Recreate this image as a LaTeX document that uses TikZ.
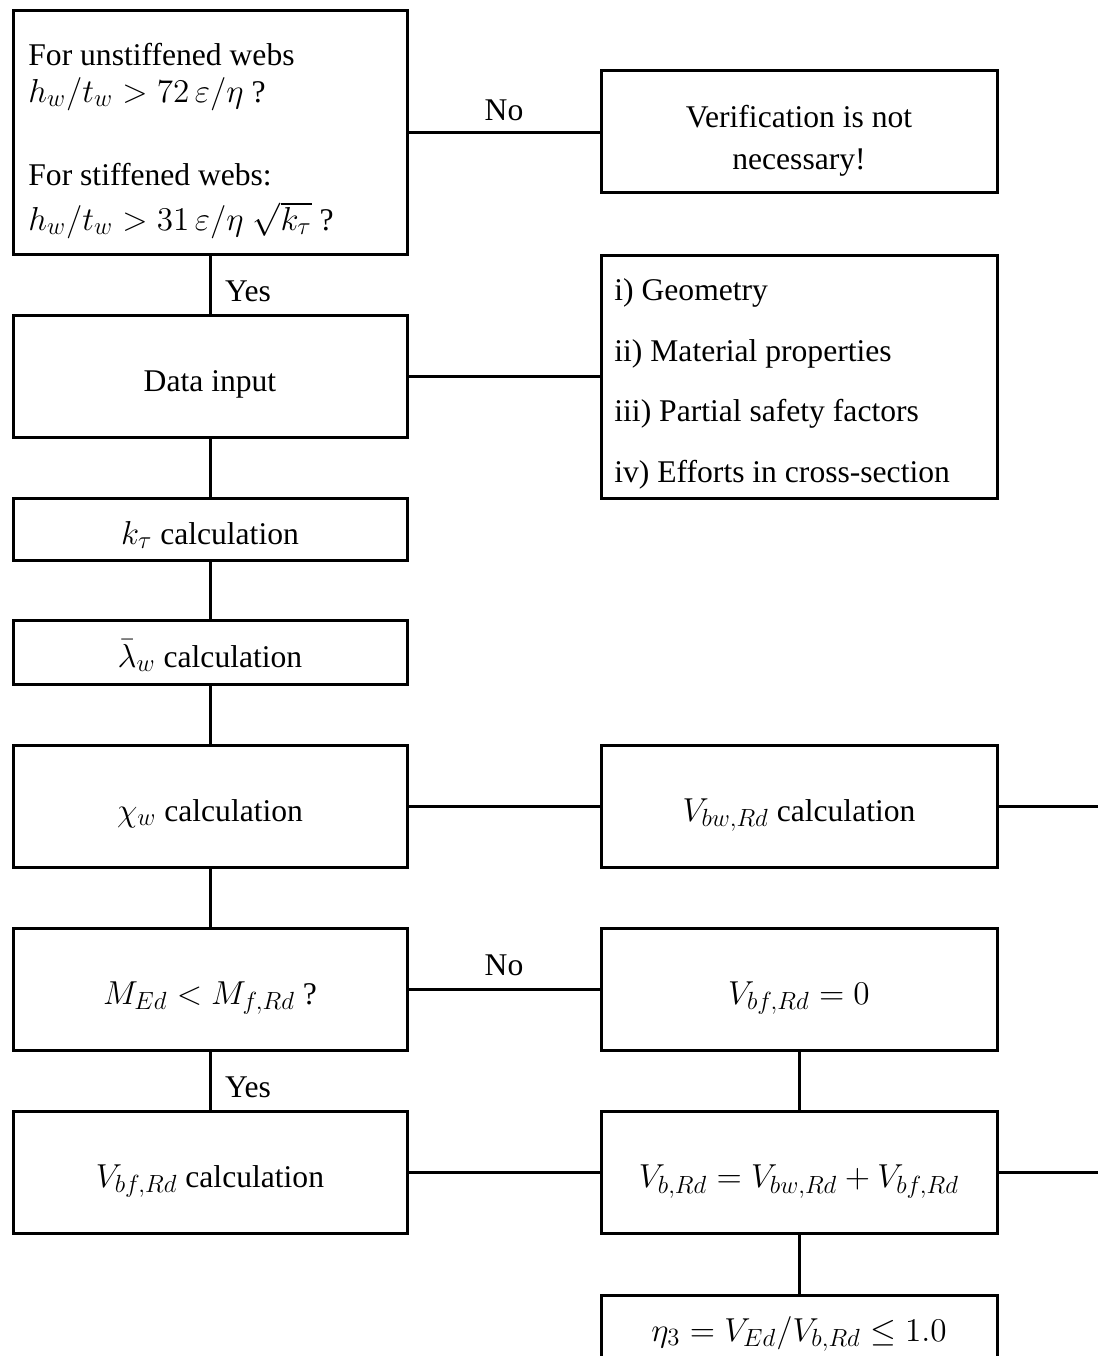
\RequirePackage{fix-cm}
\documentclass[tikz,border=0pt]{standalone}
\usepackage{fontspec}
\setmainfont{Liberation Serif}
\DeclareMathSizes{15.8}{16.6}{12.4}{9.5}

\begin{document}
\begin{tikzpicture}[x=0.5pt,y=-0.5pt,
  every node/.style={font=\fontsize{15.8}{19}\selectfont},
  box/.style={draw, line width=1.5pt, inner sep=0pt, text height=15pt, text depth=0pt},
  lbox/.style={box, minimum width=197pt},
  rbox/.style={box, minimum width=198pt},
  link/.style={line width=1.5pt},
  txt/.style={inner sep=0pt, anchor=base west},
  ctxt/.style={inner sep=0pt, anchor=base}]

\useasboundingbox (0,0) rectangle (1098,1356);
\clip (0,0) rectangle (1098,1356);

% left column
\node[lbox, minimum height=122pt] (A)   at (210,132)  {};
\node[lbox, minimum height=61pt]  (D)   at (210,376)  {Data input};
\node[lbox, minimum height=31pt]  (K)   at (210,529)  {$k_\tau$ calculation};
\node[lbox, minimum height=32pt]  (Lam) at (210,652)  {$\bar{\lambda}_w$ calculation};
\node[lbox, minimum height=61pt]  (Chi) at (210,806)  {$\chi_w$ calculation};
\node[lbox, minimum height=61pt]  (M)   at (210,989)  {$M_{Ed} < M_{f,Rd}$ ?};
\node[lbox, minimum height=61pt]  (Vbf) at (210,1172) {$V_{bf,Rd}$ calculation};

% text of the slenderness check
\node[txt] (A1) at (28,65)  {For unstiffened webs};
\node[txt] (A2) at (28,102) {$h_w/t_w > 72\,\varepsilon/\eta$ ?};
\node[txt] (A3) at (28,185) {For stiffened webs:};
\node[txt] (A4) at (28,230) {$h_w/t_w > 31\,\varepsilon/\eta\;\sqrt{k_\tau}$ ?};

% right column
\node[rbox, minimum height=61pt]    (B)   at (799,131)    {};
\node[ctxt] (B1) at (799,127) {Verification is not};
\node[ctxt] (B2) at (799,169) {necessary!};

\node[rbox, minimum height=121.5pt] (L)   at (799,376.5)  {};
\node[txt] (L1) at (614,300) {i) Geometry};
\node[txt] (L2) at (614,361) {ii) Material properties};
\node[txt] (L3) at (614,421) {iii) Partial safety factors};
\node[txt] (L4) at (614,482) {iv) Efforts in cross-section};

\node[rbox, minimum height=61pt] (Vbw) at (799,806)    {$V_{bw,Rd}$ calculation};
\node[rbox, minimum height=61pt] (V0)  at (799,989)    {$V_{bf,Rd} = 0$};
\node[rbox, minimum height=61pt] (Vb)  at (799,1172.5) {$V_{b,Rd} = V_{bw,Rd} + V_{bf,Rd}$};
\node[rbox, minimum height=31pt] (Eta) at (799,1326)   {$\eta_3 = V_{Ed}/V_{b,Rd} \le 1.0$};

% free ends leaving the sheet on the right
\coordinate (Rw) at (1110,806);
\coordinate (Rb) at (1110,1172.5);

% connectors
\draw[link] (A.south) -- (D.north);
\draw[link] (D.south) -- (K.north);
\draw[link] (K.south) -- (Lam.north);
\draw[link] (Lam.south) -- (Chi.north);
\draw[link] (Chi.south) -- (M.north);
\draw[link] (M.south) -- (Vbf.north);
\draw[link] (A.east) -- (A.east -| B.west);
\draw[link] (D.east) -- (D.east -| L.west);
\draw[link] (Chi.east) -- (Vbw.west);
\draw[link] (M.east) -- (V0.west);
\draw[link] (Vbf.east) -- (Vbf.east -| Vb.west);
\draw[link] (V0.south) -- (Vb.north);
\draw[link] (Vb.south) -- (Eta.north);
\draw[link] (Vbw.east) -- (Rw);
\draw[link] (Vb.east) -- (Rb);

% branch labels
\node[ctxt] (no1)  at (504,120)  {No};
\node[ctxt] (yes1) at (248,301)  {Yes};
\node[ctxt] (no2)  at (504,975)  {No};
\node[ctxt] (yes2) at (248,1097) {Yes};

\end{tikzpicture}
\end{document}
